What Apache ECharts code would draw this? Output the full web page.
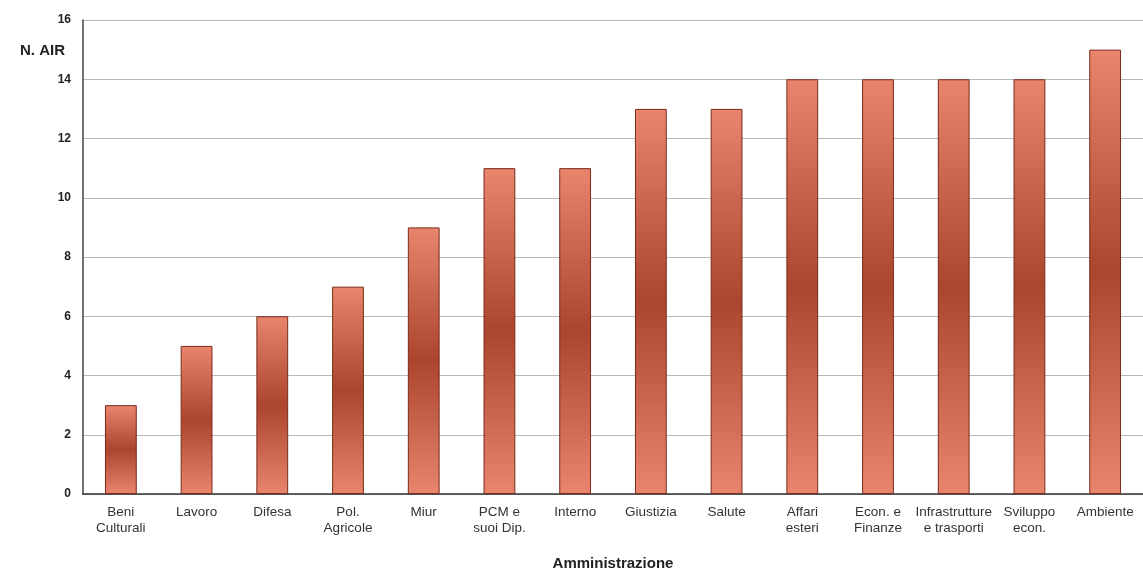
<!DOCTYPE html>
<html>
<head>
<meta charset="utf-8">
<script src="https://cdn.jsdelivr.net/npm/echarts@6/dist/echarts.min.js"></script>
<style>
html,body{margin:0;padding:0;background:#fff;}
#c{width:1143px;height:569px;}
</style>
</head>
<body>
<div id="c"></div>
<script>
const categories = ['Beni\nCulturali','Lavoro','Difesa','Pol.\nAgricole','Miur','PCM e\nsuoi Dip.','Interno','Giustizia','Salute','Affari\nesteri','Econ. e\nFinanze','Infrastrutture\ne trasporti','Sviluppo\necon.','Ambiente'];
const values = [3,5,6,7,9,11,11,13,13,14,14,14,14,15];
const yTicks = [0,2,4,6,8,10,12,14,16];

const chart = echarts.init(document.getElementById('c'));
chart.setOption({
  backgroundColor:'#fff',
  animation:false,
  grid:{left:83,right:0,top:20,bottom:75,containLabel:false,outerBoundsMode:'none'},
  xAxis:{
    type:'category',
    data:categories,
    name:'Amministrazione',
    nameLocation:'middle',
    nameGap:62,
    nameTextStyle:{fontFamily:'Liberation Sans',fontSize:15,fontWeight:'bold',color:'#222'},
    axisLine:{lineStyle:{color:'#333',width:1.5}},
    axisTick:{show:false},
    axisLabel:{interval:0,fontFamily:'Liberation Sans',fontSize:13.5,color:'#333',lineHeight:16,margin:10}
  },
  yAxis:{
    type:'value',
    min:yTicks[0],max:yTicks[yTicks.length-1],interval:2,
    name:'N. AIR',
    nameLocation:'end',
    nameGap:0,
    nameTextStyle:{fontFamily:'Liberation Sans',fontSize:15,fontWeight:'bold',color:'#222',align:'right',padding:[0,18,-38,0]},
    axisLine:{show:true,lineStyle:{color:'#444',width:1.5}},
    axisTick:{show:false},
    axisLabel:{fontFamily:'Liberation Sans',fontSize:12,fontWeight:'bold',color:'#222',margin:12},
    splitLine:{lineStyle:{color:'#b8b8b8',width:1}}
  },
  series:[{
    type:'bar',
    data:values,
    barWidth:'42%',
    itemStyle:{
      borderColor:'#7a2a1a',
      borderWidth:1,
      color:{type:'linear',x:0,y:0,x2:0,y2:1,colorStops:[
        {offset:0,color:'#e8856c'},
        {offset:0.5,color:'#ab452d'},
        {offset:1,color:'#e8856c'}
      ]}
    }
  }]
});
</script>
</body>
</html>
